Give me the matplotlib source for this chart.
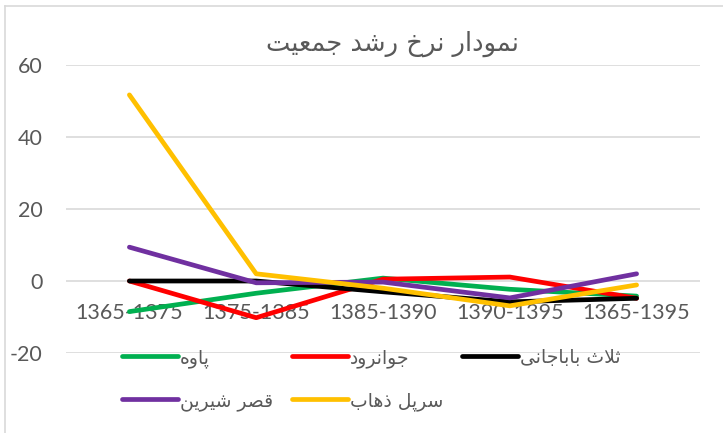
import matplotlib
matplotlib.use("Agg")
import matplotlib.pyplot as plt
from matplotlib.lines import Line2D

# data
periods = ["1365-1375", "1375-1385", "1385-1390", "1390-1395", "1365-1395"]
names = ["پاوه", "جوانرود", "ثلاث باباجانی", "قصر شیرین", "سرپل ذهاب"]
paveh = [-8.5, -3.4, 0.8, -2.3, -4.2]
javanrud = [0.0, -10.2, 0.5, 1.1, -4.8]
salas = [0.0, 0.0, -3.0, -5.8, -4.8]
qasr = [9.4, -0.5, -0.3, -4.7, 2.0]
sarpol = [51.7, 2.0, -2.0, -6.9, -1.1]
colors = ["#00B050", "#FF0000", "#000000", "#7030A0", "#FFC000"]
title = "نمودار نرخ رشد جمعیت"
yticks = [-20, 0, 20, 40, 60]

plt.rcParams["axes.unicode_minus"] = False

# matplotlib has no arabic shaping, so pick presentation forms by hand
# (isolated, final, initial, medial)
FORMS = {
    "ا": ("\uFE8D", "\uFE8E", None, None),
    "ب": ("\uFE8F", "\uFE90", "\uFE91", "\uFE92"),
    "پ": ("\uFB56", "\uFB57", "\uFB58", "\uFB59"),
    "ت": ("\uFE95", "\uFE96", "\uFE97", "\uFE98"),
    "ث": ("\uFE99", "\uFE9A", "\uFE9B", "\uFE9C"),
    "ج": ("\uFE9D", "\uFE9E", "\uFE9F", "\uFEA0"),
    "خ": ("\uFEA5", "\uFEA6", "\uFEA7", "\uFEA8"),
    "د": ("\uFEA9", "\uFEAA", None, None),
    "ذ": ("\uFEAB", "\uFEAC", None, None),
    "ر": ("\uFEAD", "\uFEAE", None, None),
    "س": ("\uFEB1", "\uFEB2", "\uFEB3", "\uFEB4"),
    "ش": ("\uFEB5", "\uFEB6", "\uFEB7", "\uFEB8"),
    "ص": ("\uFEB9", "\uFEBA", "\uFEBB", "\uFEBC"),
    "ع": ("\uFEC9", "\uFECA", "\uFECB", "\uFECC"),
    "ق": ("\uFED5", "\uFED6", "\uFED7", "\uFED8"),
    "ل": ("\uFEDD", "\uFEDE", "\uFEDF", "\uFEE0"),
    "م": ("\uFEE1", "\uFEE2", "\uFEE3", "\uFEE4"),
    "ن": ("\uFEE5", "\uFEE6", "\uFEE7", "\uFEE8"),
    "ه": ("\uFEE9", "\uFEEA", "\uFEEB", "\uFEEC"),
    "و": ("\uFEED", "\uFEEE", None, None),
    "ی": ("\uFBFC", "\uFBFD", "\uFBFE", "\uFBFF"),
}


def shape(s):
    out = []
    i = 0
    while i < len(s):
        c = s[i]
        if c not in FORMS:
            out.append(c)
            i += 1
            continue
        prev = s[i - 1] if i > 0 else ""
        joins_prev = prev in FORMS and FORMS[prev][2] is not None
        if c == "ل" and i + 1 < len(s) and s[i + 1] == "ا":
            out.append("\uFEFC" if joins_prev else "\uFEFB")
            i += 2
            continue
        nxt = s[i + 1] if i + 1 < len(s) else ""
        joins_next = FORMS[c][2] is not None and nxt in FORMS
        iso, fin, ini, med = FORMS[c]
        if joins_prev and joins_next:
            out.append(med)
        elif joins_prev:
            out.append(fin)
        elif joins_next:
            out.append(ini)
        else:
            out.append(iso)
        i += 1
    return "".join(out[::-1])


fig = plt.figure(figsize=(7.23, 4.33), dpi=100)
ax = fig.add_axes([66 / 723, 1 - 353 / 433, 634 / 723, 288 / 433])

x = range(len(periods))
handles = []
for vals, name, col in zip([paveh, javanrud, salas, qasr, sarpol], names, colors):
    h, = ax.plot(x, vals, color=col, lw=3.4, solid_capstyle="round",
                 solid_joinstyle="round", label=shape(name))
    handles.append(h)

ax.set_xlim(-0.5, len(periods) - 0.5)
ax.set_ylim(-20, 60)
ax.set_yticks(yticks)
ax.grid(axis="y", color="#D9D9D9", lw=1.2)
ax.set_axisbelow(True)
for sp in ax.spines.values():
    sp.set_visible(False)
ax.spines["bottom"].set_position(("data", 0))
ax.set_xticks(list(x))
ax.set_xticklabels(periods)
ax.tick_params(axis="both", length=0, labelcolor="#595959", labelsize=15.5)
ax.tick_params(axis="x", pad=16)
ax.tick_params(axis="y", pad=17)
for t in ax.get_xticklabels() + ax.get_yticklabels():
    t.set_fontfamily("Lato")

fig.text(392 / 723, 1 - 44 / 433, shape(title), ha="center", va="center",
         fontsize=18.5, color="#595959", family="DejaVu Sans")

order = [0, 3, 1, 4, 2]
fig.legend([handles[k] for k in order], [shape(names[k]) for k in order],
           ncol=3, loc="upper left", bbox_to_anchor=(105 / 723, 1 - 331 / 433),
           frameon=False, handlelength=3.0, handletextpad=0.1,
           columnspacing=1.0, labelspacing=1.25,
           prop={"family": "DejaVu Sans", "size": 13.5}, labelcolor="#595959")

# chart area border (only top and left edges are visible in the crop)
fig.add_artist(Line2D([5 / 723, 5 / 723], [0, 1 - 6 / 433], color="#D9D9D9", lw=1.2))
fig.add_artist(Line2D([5 / 723, 1], [1 - 6 / 433, 1 - 6 / 433], color="#D9D9D9", lw=1.2))

fig.savefig("out.png", dpi=100)
